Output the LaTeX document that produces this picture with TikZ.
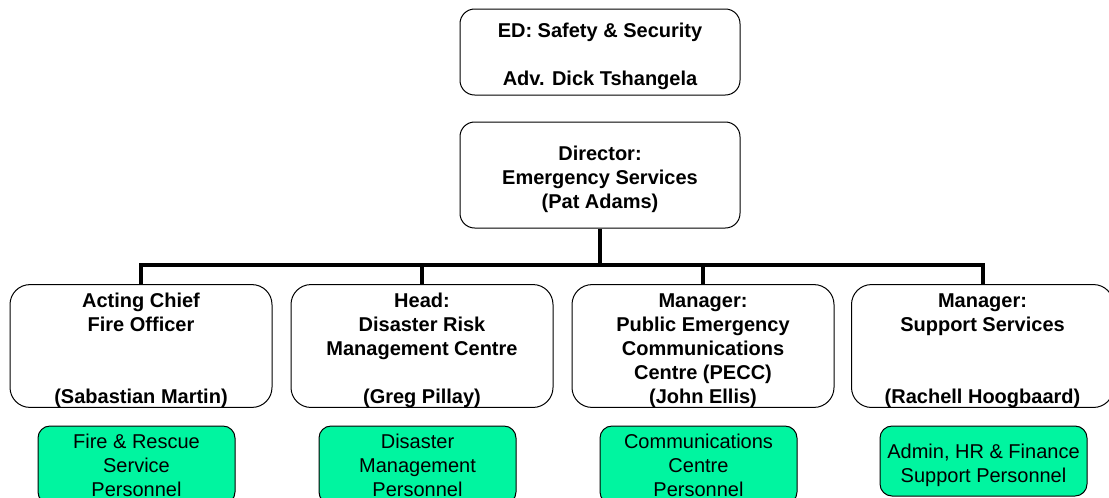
\documentclass[tikz,border=0pt]{standalone}
\usepackage{fontspec}
\setmainfont{Liberation Sans}
\usetikzlibrary{positioning}

\definecolor{staffgreen}{RGB}{0,245,160}
\newcommand{\toppad}{\rule{0pt}{17pt}}

\begin{document}
\begin{tikzpicture}[
			x=0.75pt, y=-0.75pt,
			every node/.style={font=\fontsize{15}{18}\selectfont, inner sep=0pt, align=center},
			post/.style={draw, line width=0.75pt, rounded corners=11pt, font=\fontsize{15}{18}\selectfont\bfseries},
			unit/.style={post, minimum width=262*0.75pt, minimum height=122*0.75pt, rounded corners=15pt},
			staff/.style={draw, line width=0.75pt, fill=staffgreen, rounded corners=9pt, minimum width=197*0.75pt},
			link/.style={line width=3pt}
		]
		\useasboundingbox (0,0) rectangle (1109,497);

		% top of the chart
		\node[post, minimum width=280*0.75pt, minimum height=86*0.75pt] (ed) at (600,52)
			{\toppad ED: Safety \& Security\\[18pt]Adv. Dick Tshangela};
		\node[post, minimum width=280*0.75pt, minimum height=106*0.75pt] (dir) at (600,175)
			{\toppad Director:\\Emergency Services\\(Pat Adams)};

		% the four units
		\node[unit] (fire) at (141,346)
			{\toppad Acting Chief\\Fire Officer\\~\\~\\(Sabastian Martin)};
		\node[unit] (drmc) at (422,346)
			{\toppad Head:\\Disaster Risk\\Management Centre\\~\\(Greg Pillay)};
		\node[unit] (pecc) at (703,346)
			{\toppad Manager:\\Public Emergency\\Communications\\Centre (PECC)\\(John Ellis)};
		\node[unit] (supp) at (982.5,346)
			{\toppad Manager:\\Support Services\\~\\~\\(Rachell Hoogbaard)};

		% personnel boxes
		\node[staff, minimum height=78*0.75pt] (firestaff) at (136.5,465)
			{Fire \& Rescue\\Service\\Personnel};
		\node[staff, minimum height=78*0.75pt] (drmcstaff) at (417.5,465)
			{Disaster\\Management\\Personnel};
		\node[staff, minimum height=78*0.75pt] (peccstaff) at (698.5,465)
			{Communications\\Centre\\Personnel};
		\node[staff, minimum height=70*0.75pt, minimum width=207*0.75pt] (suppstaff) at (983.5,461)
			{\rule{0pt}{18pt}Admin, HR \& Finance\\Support Personnel};

		% lines down from the director
		\coordinate (bus) at (600,266);
		\draw[link] (dir.south) -- (bus);
		\draw[link] (fire.north) -- ++(0,-19) -| (supp.north);
		\draw[link] (drmc.north) -- ++(0,-19);
		\draw[link] (pecc.north) -- ++(0,-19);

	\end{tikzpicture}
\end{document}
